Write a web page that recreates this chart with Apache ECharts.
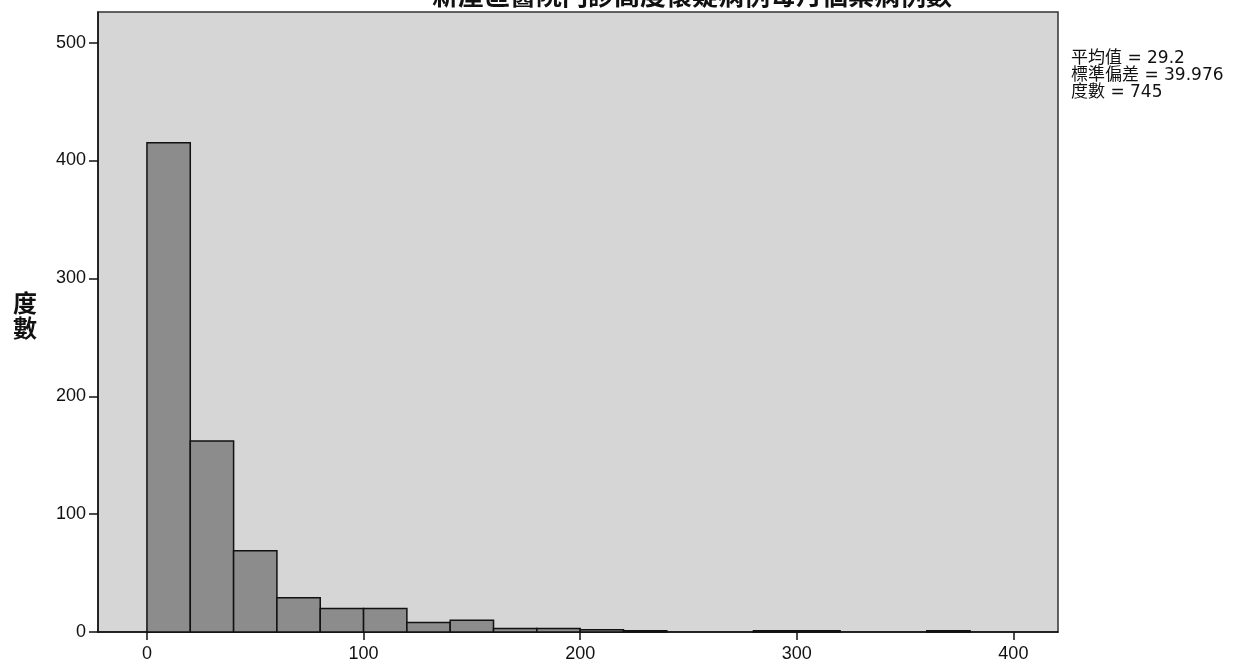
<!DOCTYPE html>
<html>
<head>
<meta charset="utf-8">
<script src="https://cdn.jsdelivr.net/npm/echarts@6/dist/echarts.min.js"></script>
<style>html,body{margin:0;padding:0;background:#fff;}#c{width:1236px;height:665px;}</style>
</head>
<body>
<div id="c"></div>
<script>
// Histogram data (bin width 20)
const binStarts = [0, 20, 40, 60, 80, 100, 120, 140, 160, 180, 200, 220, 280, 300, 360];
const binWidth = 20;
const counts = [415, 162, 69, 29, 20, 20, 8, 10, 3, 3, 2, 1, 1, 1, 1];
const xTicks = [0, 100, 200, 300, 400];
const yTicks = [0, 100, 200, 300, 400, 500];
const statLines = ['平均值 = 29.2', '標準偏差 = 39.976', '度數 = 745'];
const yAxisName = '度數';
const titleText = '新屋區醫院門診高度懷疑病例每月個案病例數';

const chart = echarts.init(document.getElementById('c'), null, {renderer: 'canvas'});
const data = binStarts.map((s, i) => [s, s + binWidth, counts[i]]);

chart.setOption({
  animation: false,
  backgroundColor: '#ffffff',
  grid: {
    left: 98, right: 178, top: 12, bottom: 33,
    show: true, backgroundColor: '#d6d6d6', borderColor: '#333', borderWidth: 1.5
  },
  xAxis: {
    type: 'value', min: -22.6, max: 420.6,
    splitLine: {show: false},
    axisLine: {show: true, onZero: false, lineStyle: {color: '#111', width: 1.5}},
    axisTick: {show: true, length: 8, customValues: xTicks, lineStyle: {color: '#111', width: 1.5}},
    axisLabel: {customValues: xTicks, color: '#111', fontSize: 18, fontFamily: 'Liberation Sans, Arial', margin: 13}
  },
  yAxis: {
    type: 'value', min: 0, max: 526,
    splitLine: {show: false},
    axisLine: {show: true, onZero: false, lineStyle: {color: '#111', width: 1.5}},
    axisTick: {show: true, length: 9, customValues: yTicks, lineStyle: {color: '#111', width: 1.5}},
    axisLabel: {customValues: yTicks, color: '#111', fontSize: 18, fontFamily: 'Liberation Sans, Arial', margin: 12}
  },
  graphic: [
    {
      type: 'text', left: 13, top: 290,
      style: {text: yAxisName.split('').join('\n'), font: 'bold 24px "Noto Sans CJK TC"', fill: '#111', lineHeight: 25}
    },
    {
      type: 'text', left: 1071, top: 50,
      style: {text: statLines.join('\n'), font: '17px "DejaVu Sans", "Noto Sans CJK TC"', fill: '#111', lineHeight: 17}
    },
    {
      type: 'text', left: 432, top: -18,
      style: {text: titleText, font: 'bold 26px "Noto Sans CJK TC"', fill: '#111'}
    }
  ],
  series: [{
    type: 'custom',
    data: data,
    encode: {x: [0, 1], y: 2},
    renderItem: function (params, api) {
      const p0 = api.coord([api.value(0), api.value(2)]);
      const p1 = api.coord([api.value(1), 0]);
      return {
        type: 'rect',
        shape: {x: p0[0], y: p0[1], width: p1[0] - p0[0], height: p1[1] - p0[1]},
        style: {fill: '#8c8c8c', stroke: '#111', lineWidth: 1.5}
      };
    }
  }]
});
</script>
</body>
</html>
